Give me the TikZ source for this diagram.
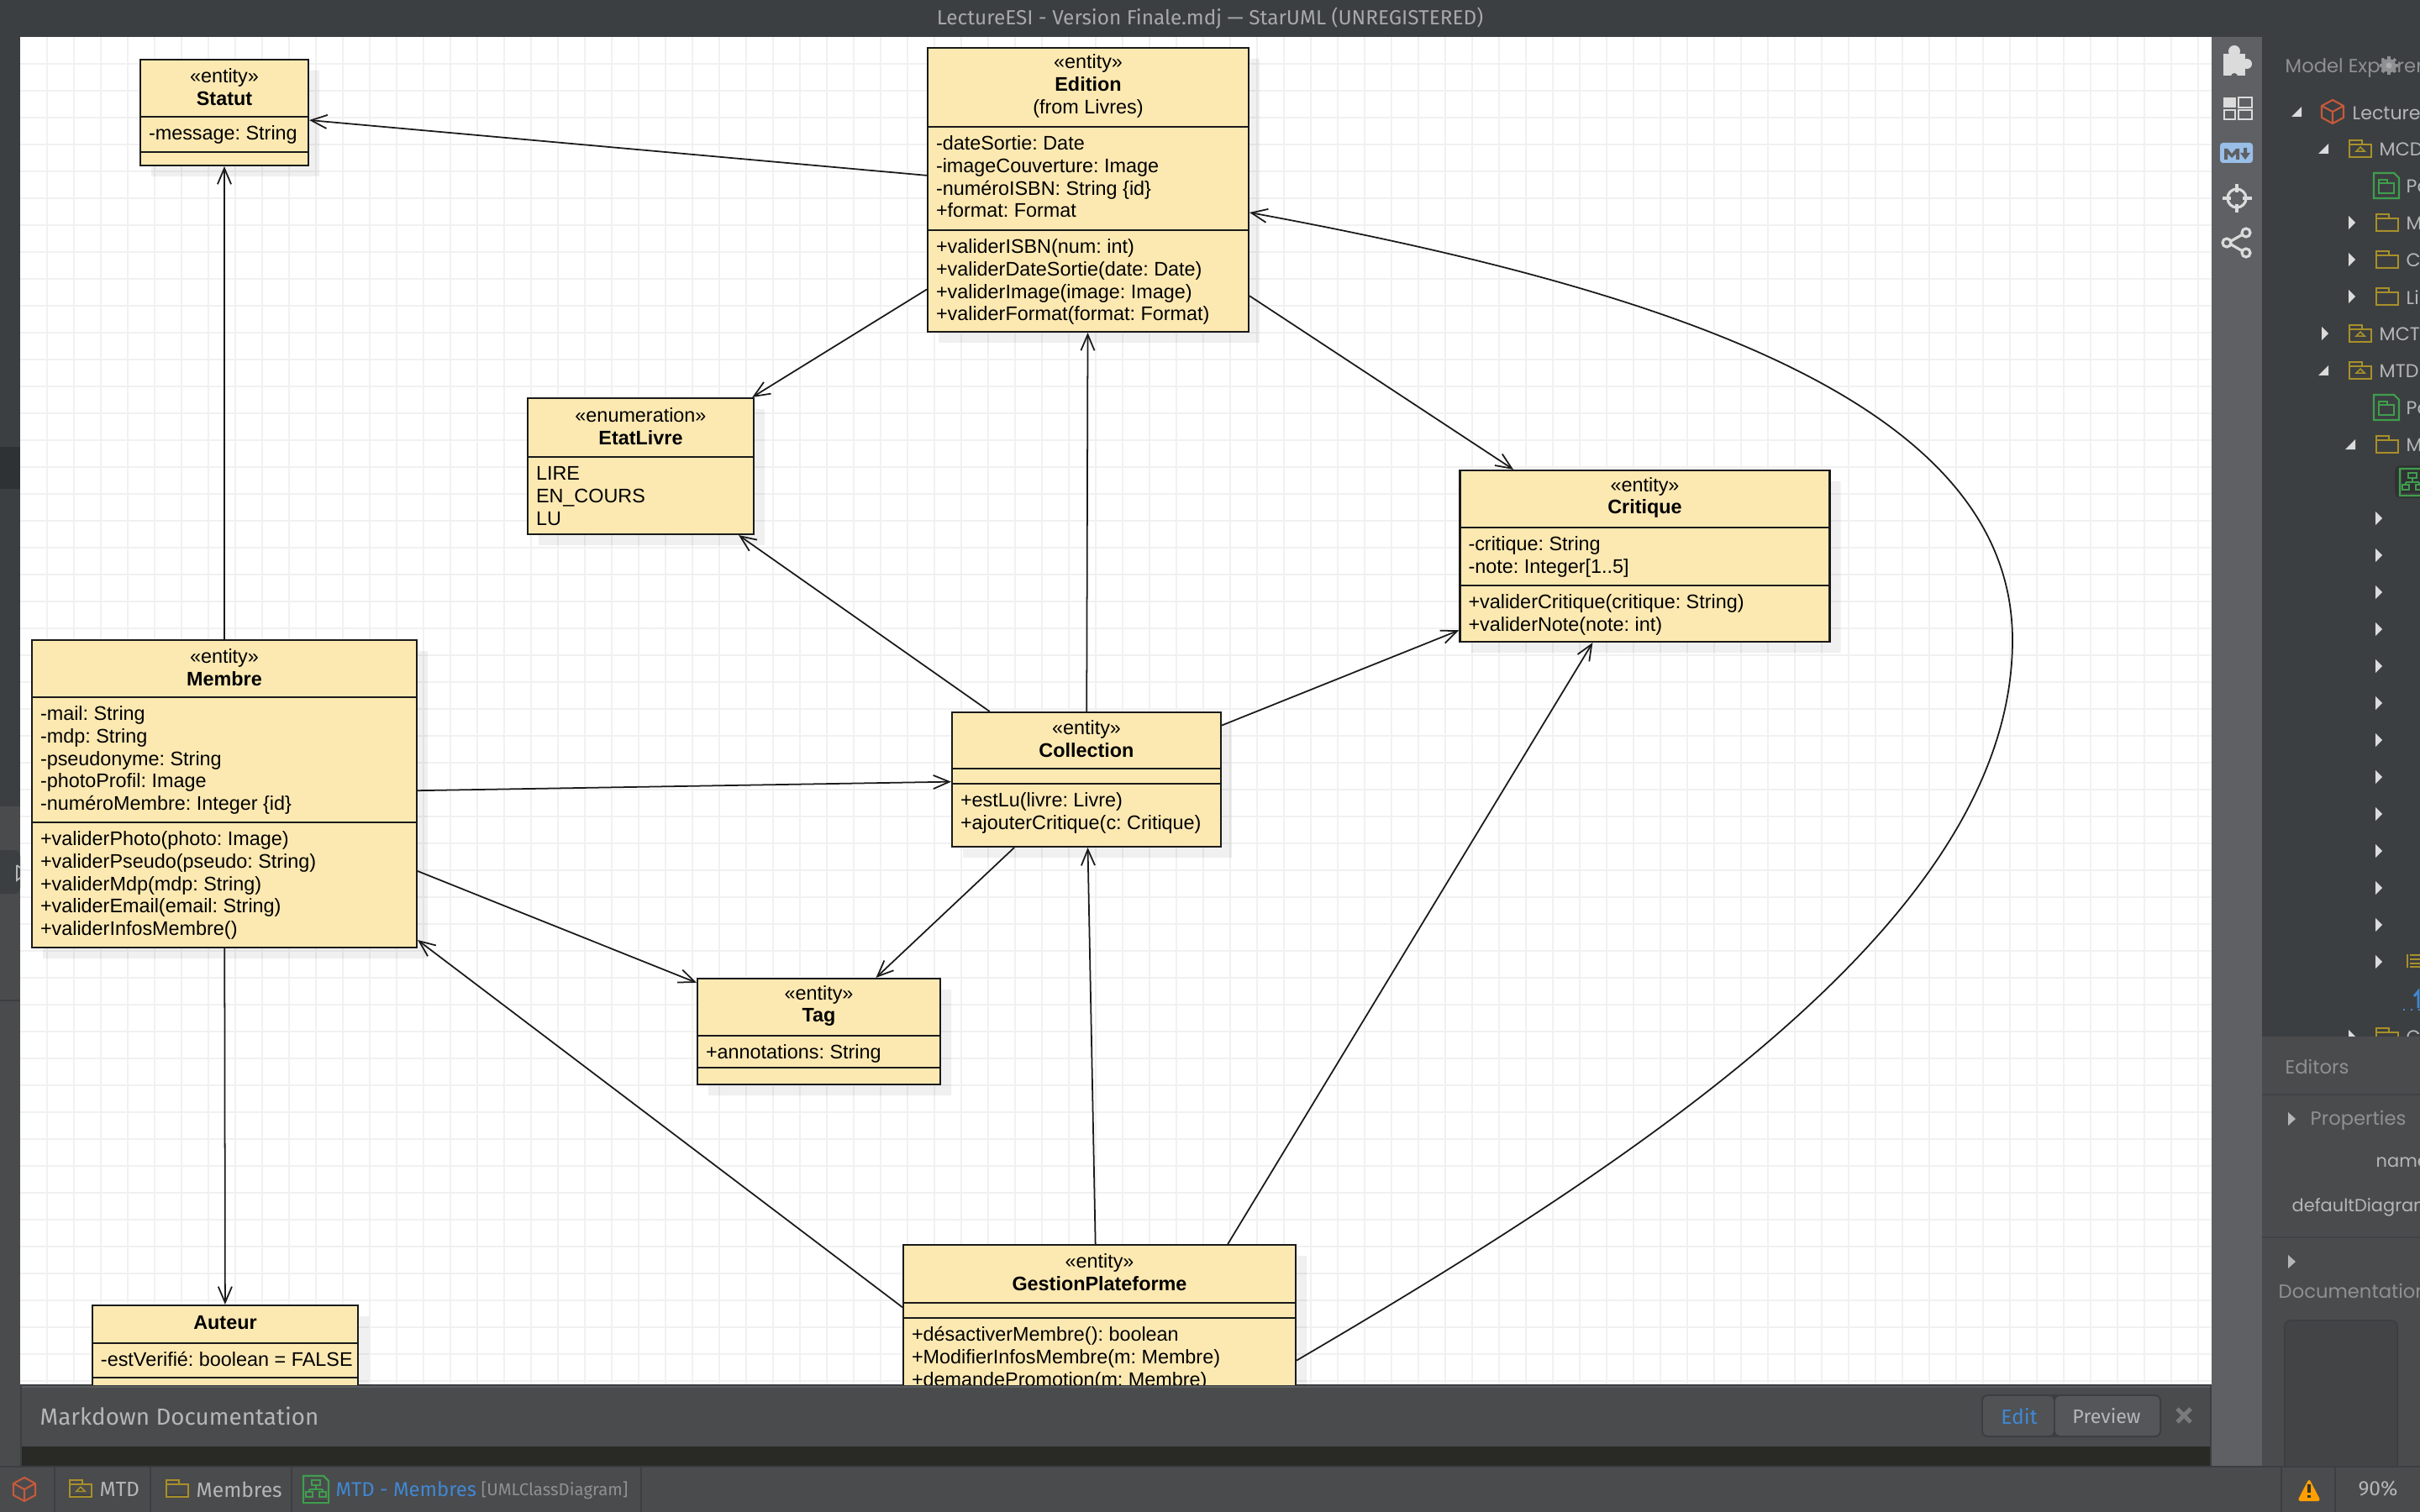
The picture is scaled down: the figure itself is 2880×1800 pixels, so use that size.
\documentclass[tikz,border=0pt]{standalone}
\usepackage{fontspec}
\setmainfont{Liberation Sans}
\newfontfamily\uifont{Fira Sans}
\newfontfamily\treefont{Poppins}
\usetikzlibrary{arrows.meta,shapes.multipart,shadows}

\definecolor{chrome}{HTML}{3C3F41}
\definecolor{chromedark}{HTML}{2F3234}
\definecolor{panel}{HTML}{4A4B4D}
\definecolor{panelline}{HTML}{5C5D5F}
\definecolor{strip}{HTML}{5F6063}
\definecolor{band}{HTML}{292A26}
\definecolor{gridline}{HTML}{F1F1F1}
\definecolor{umlfill}{HTML}{FCE9B2}
\definecolor{umlline}{HTML}{1A1A1A}
\definecolor{uitext}{HTML}{B4B6B7}
\definecolor{uidim}{HTML}{8E9092}
\definecolor{titletext}{HTML}{A6A8A9}
\definecolor{icon}{HTML}{DADBDA}
\definecolor{pkgyellow}{HTML}{A8902A}
\definecolor{docgreen}{HTML}{3F9E4D}
\definecolor{cubered}{HTML}{C65A3C}
\definecolor{linkblue}{HTML}{4088D4}

\newlength{\pxu}
\setlength{\pxu}{0.01cm}
\newcommand{\umlpart}[3]{\parbox[c][\dimexpr#2\pxu-0.6pt\relax][t]{#1\pxu}{\raggedright\leftskip=10\pxu\rule{0pt}{26.5\pxu}#3}}
\newcommand{\umlhead}[3]{\parbox[c][\dimexpr#2\pxu-0.6pt\relax][c]{#1\pxu}{\centering #3\par\vspace{3\pxu}}}

\tikzset{
  umlclass/.style={rectangle split, rectangle split parts=3, draw=umlline, fill=umlfill,
    line width=0.6pt, inner sep=0pt, font=\fontsize{6.65}{7.62}\selectfont\frenchspacing,
    general shadow={fill=black, opacity=0.06, shadow xshift=13\pxu, shadow yshift=-13\pxu}},
  assoc/.style={draw=umlline, line width=0.5pt, -{Straight Barb[length=5.4pt,width=4.6pt]}},
  title/.style={inner sep=0pt, text=titletext, font=\uifont\fontsize{6.93}{8}\selectfont},
  bar/.style={inner sep=0pt, anchor=west, text=uitext, font=\uifont\fontsize{7}{9}\selectfont},
  tree/.style={inner sep=0pt, anchor=west, text=uitext, font=\treefont\fontsize{6.3}{9}\selectfont},
  treedim/.style={tree, text=uidim, font=\treefont\fontsize{6.45}{9}\selectfont},
  treesmall/.style={tree, font=\treefont\fontsize{5.95}{9}\selectfont},
  iconline/.style={draw=icon, line width=0.6pt},
}

% small icons, #1 is the centre
\newcommand{\cubeico}[1]{\begin{scope}[shift={(#1)}, line join=round]
  \draw[cubered, line width=0.6pt] (0,-14) -- (13,-7) -- (13,7) -- (0,14) -- (-13,7) -- (-13,-7) -- cycle;
  \draw[cubered, line width=0.6pt] (-13,-7) -- (0,0) -- (13,-7) (0,0) -- (0,14);
\end{scope}}
\newcommand{\folderico}[1]{\begin{scope}[shift={(#1)}]
  \draw[pkgyellow, line width=0.6pt] (-13,-5) -- (13,-5) -- (13,10) -- (-13,10) -- cycle (-13,-5) -- (-13,-10) -- (2,-10) -- (2,-5);
  \fill[black!75] (-12,7) rectangle (12,9);
\end{scope}}
\newcommand{\packageico}[1]{\begin{scope}[shift={(#1)}]
  \folderico{0,0}
  \fill[pkgyellow] (-7,4) -- (0,-3) -- (7,4) -- cycle;
  \fill[chrome] (-3,2.5) -- (0,-0.5) -- (3,2.5) -- cycle;
\end{scope}}
\newcommand{\greenico}[1]{\begin{scope}[shift={(#1)}]
  \draw[docgreen, line width=0.6pt] (-15,-15) -- (9,-15) -- (15,-9) -- (15,15) -- (-15,15) -- cycle;
  \draw[docgreen, line width=0.6pt] (-9,-3) -- (9,-3) -- (9,9) -- (-9,9) -- cycle (-9,-3) -- (-9,-7) -- (1,-7) -- (1,-3);
\end{scope}}
\newcommand{\diagramico}[1]{\begin{scope}[shift={(#1)}]
  \draw[docgreen, line width=0.7pt] (-15,-16) -- (9,-16) -- (15,-10) -- (15,16) -- (-15,16) -- cycle;
  \draw[docgreen, line width=0.6pt] (-5,-11) rectangle (5,-5) (0,-5) -- (0,0) (-8,0) -- (8,0) (-8,0) -- (-8,3) (8,0) -- (8,3)
    (-12,3) rectangle (-4,9) (4,3) rectangle (12,9);
  \fill[black!75] (-14,13) rectangle (14,15);
\end{scope}}

\begin{document}
\begin{tikzpicture}[x=0.01cm, y=-0.01cm]
  \useasboundingbox (0,0) rectangle (2880,1800);
  \fill[chrome] (0,0) rectangle (2880,1800);

  % drawing canvas
  \begin{scope}
    \clip (24,44) rectangle (2632,1648);
    \fill[white] (24,44) rectangle (2632,1648);
    \foreach \gx in {56,88,...,2632}
      \draw[gridline, line width=0.4pt] (\gx,44) -- (\gx,1648);
    \foreach \gy in {76,108,...,1648}
      \draw[gridline, line width=0.4pt] (24,\gy) -- (2632,\gy);

    \node[umlclass] (statut) at (267,134) {\umlhead{200}{68}{«entity»\\\textbf{Statut}}
      \nodepart{two}\umlpart{200}{42}{-message: String}
      \nodepart{three}\umlpart{200}{16}{}};
    \node[umlclass] (edition) at (1295,226) {\umlhead{382}{94}{«entity»\\\textbf{Edition}\\(from Livres)}
      \nodepart{two}\umlpart{382}{123}{-dateSortie: Date\\-imageCouverture: Image\\-numéroISBN: String \{id\}\\+format: Format}
      \nodepart{three}\umlpart{382}{121}{+validerISBN(num: int)\\+validerDateSortie(date: Date)\\+validerImage(image: Image)\\+validerFormat(format: Format)}};
    \node[umlclass, rectangle split parts=2] (etatlivre) at (762.5,555) {\umlhead{269}{70}{«enumeration»\\\textbf{EtatLivre}}
      \nodepart{two}\umlpart{269}{92}{LIRE\\EN\_COURS\\LU}};
    \node[umlclass] (critique) at (1957.5,662) {\umlhead{440}{68}{«entity»\\\textbf{Critique}}
      \nodepart{two}\umlpart{440}{69}{-critique: String\\-note: Integer[1..5]}
      \nodepart{three}\umlpart{440}{67}{+validerCritique(critique: String)\\+validerNote(note: int)}};
    \node[umlclass] (membre) at (267,945) {\umlhead{458}{68}{«entity»\\\textbf{Membre}}
      \nodepart{two}\umlpart{458}{149}{-mail: String\\-mdp: String\\-pseudonyme: String\\-photoProfil: Image\\-numéroMembre: Integer \{id\}}
      \nodepart{three}\umlpart{458}{149}{+validerPhoto(photo: Image)\\+validerPseudo(pseudo: String)\\+validerMdp(mdp: String)\\+validerEmail(email: String)\\+validerInfosMembre()}};
    \node[umlclass] (collection) at (1293,928) {\umlhead{320}{67}{«entity»\\\textbf{Collection}}
      \nodepart{two}\umlpart{320}{18}{}
      \nodepart{three}\umlpart{320}{75}{+estLu(livre: Livre)\\+ajouterCritique(c: Critique)}};
    \node[umlclass] (tag) at (974.5,1228) {\umlhead{289}{68}{«entity»\\\textbf{Tag}}
      \nodepart{two}\umlpart{289}{38}{+annotations: String}
      \nodepart{three}\umlpart{289}{20}{}};
    \node[umlclass] (gestion) at (1308.5,1734) {\umlhead{467}{69}{«entity»\\\textbf{GestionPlateforme}}
      \nodepart{two}\umlpart{467}{18}{}
      \nodepart{three}\umlpart{467}{417}{+désactiverMembre(): boolean\\+ModifierInfosMembre(m: Membre)\\+demandePromotion(m: Membre)}};
    \node[umlclass] (auteur) at (268,1617) {\umlhead{316}{45}{\textbf{Auteur}}
      \nodepart{two}\umlpart{316}{41}{-estVerifié: boolean = FALSE}
      \nodepart{three}\umlpart{316}{40}{}};

    \draw[assoc] (edition) -- (statut);
    \draw[assoc] (membre) -- (statut);
    \draw[assoc] (edition) -- (etatlivre);
    \draw[assoc] (collection) -- (etatlivre);
    \draw[assoc] (collection) -- (edition);
    \draw[assoc] (edition) -- (critique);
    \draw[assoc] (collection) -- (critique);
    \draw[assoc] (membre) -- (collection);
    \draw[assoc] (collection) -- (tag);
    \draw[assoc] (membre) -- (tag);
    \draw[assoc] (membre) -- (auteur);
    \draw[assoc] (gestion) -- (collection);
    \draw[assoc] (gestion) -- (critique);
    \draw[assoc] (gestion) -- (membre);
    \draw[assoc] (gestion.26.7) .. controls (1983,1362) and (2395,1082) .. (2395,762)
      .. controls (2395,492) and (2026,352) .. (edition.-8.6);
  \end{scope}

  % title bar
  \node[title] (apptitle) at (1440,22) {LectureESI - Version Finale.mdj — StarUML (UNREGISTERED)};

  % left strip
  \fill[chromedark] (0,532) rectangle (24,582);
  \fill[panel] (0,960) rectangle (24,1746);
  \draw[chrome, line width=0.5pt] (0,1191) -- (24,1191);
  \fill[chrome, rounded corners=2pt] (-10,1012) rectangle (24,1064);
  \draw[uitext, line width=0.5pt] (20,1030) -- (24,1033) (20,1030) -- (20,1048) -- (24,1045);

  % markdown panel
  \fill[panel] (26,1650) rectangle (2630,1746);
  \fill[panelline] (26,1650) rectangle (2630,1652);
  \fill[band] (26,1722) rectangle (2630,1746);
  \node[bar, font=\uifont\fontsize{7.9}{9}\selectfont] (mdtitle) at (47,1686) {Markdown Documentation};
  \fill[chrome, rounded corners=2pt] (2358,1660) rectangle (2572,1711);
  \fill[chrome!90!white, rounded corners=1.5pt] (2360,1662) rectangle (2444,1709);
  \fill[strip!90!black, rounded corners=1.5pt] (2446,1662) rectangle (2570,1709);
  \node[bar, anchor=center, text=linkblue] (editbtn) at (2403,1686) {Edit};
  \node[bar, anchor=center, font=\uifont\fontsize{6.6}{9}\selectfont] (previewbtn) at (2507,1686) {Preview};
  \draw[uidim!85!black, line width=1.4pt] (2591,1677) -- (2607,1693) (2607,1677) -- (2591,1693);

  % tool strip
  \fill[strip] (2632,44) rectangle (2692,1746);
  \fill[icon] (2646,64) rectangle (2672,90);
  \fill[icon] (2659,61) circle (7);
  \fill[icon] (2674,76) circle (6);
  \fill[strip] (2659,91) circle (4);
  \fill[icon] (2646,116) rectangle (2661,128);
  \draw[iconline] (2664,116) rectangle (2680,128) (2647,131) rectangle (2660,142) (2664,131) rectangle (2680,142);
  \fill[cyan!30!white!85!blue, rounded corners=1pt] (2642,170) rectangle (2681,194);
  \fill[strip] (2647,177) -- (2651,177) -- (2656,183) -- (2661,177) -- (2665,177) -- (2665,190) -- (2661,190) -- (2661,183) -- (2656,188) -- (2651,183) -- (2651,190) -- (2647,190) -- cycle;
  \fill[strip] (2670,176) -- (2674,176) -- (2674,182) -- (2678,182) -- (2672,190) -- (2666,182) -- (2670,182) -- cycle;
  \draw[icon, line width=0.9pt] (2662,236) circle (11);
  \draw[icon, line width=1pt] (2662,219) -- (2662,229) (2662,243) -- (2662,253) (2645,236) -- (2655,236) (2669,236) -- (2680,236);
  \draw[icon, line width=0.9pt] (2673,277) circle (5) (2650,289) circle (5) (2673,301) circle (5)
    (2655,287) -- (2669,279) (2655,291) -- (2669,299);

  % model explorer
  \node[treedim] (explorer) at (2719,81) {Model Explorer};
  \fill[uidim] (2843,78) circle (8);
  \foreach \ga in {0,45,...,315}
    \draw[uidim, line width=1pt] (2843,78) ++(\ga:11) -- ++(\ga:-4);
  \fill[icon!70!chrome] (2843,78) circle (3.5);

  \foreach \ax/\ay in {2733/133, 2765/177, 2765/441, 2797/529}
    \fill[icon] (\ax-6,\ay+6) -- (\ax+6,\ay+6) -- (\ax+6,\ay-6) -- cycle;
  \foreach \ax/\ay in {2799/265, 2799/309, 2799/353, 2767/397, 2799/1234}
    \fill[icon] (\ax-4,\ay-8) -- (\ax+4,\ay) -- (\ax-4,\ay+8) -- cycle;
  \foreach \ay in {617,661,...,1145}
    \fill[icon] (2827,\ay-8) -- (2835,\ay) -- (2827,\ay+8) -- cycle;

  \cubeico{2776,133}
  \packageico{2809,177}
  \packageico{2809,397}
  \packageico{2809,441}
  \greenico{2840,221}
  \greenico{2840,485}
  \folderico{2841,265}
  \folderico{2841,309}
  \folderico{2841,353}
  \folderico{2841,529}
  \folderico{2841,1234}

  \fill[chrome!80!black, rounded corners=2pt] (2850,554) rectangle (2890,593);
  \diagramico{2871,574}

  \node[tree] (lecture) at (2799,135) {Lecture};
  \node[tree] (mcd) at (2831,178) {MCD};
  \node[tree] (pamcd) at (2863,222) {Pa};
  \node[tree] (mcdm) at (2863,266) {M};
  \node[tree] (mcdc) at (2863,310) {Co};
  \node[tree] (mcdl) at (2863,354) {Li};
  \node[tree] (mct) at (2831,398) {MCT};
  \node[tree] (mtd) at (2831,442) {MTD};
  \node[tree] (pamtd) at (2863,486) {Pa};
  \node[tree] (mtdm) at (2863,530) {M};
  \node[tree] (mtdc) at (2863,1235) {C};

  \fill[pkgyellow] (2864,1136) rectangle (2866,1152);
  \foreach \ly in {1137,1142,1147,1151}
    \draw[pkgyellow, line width=0.6pt] (2868,\ly) -- (2880,\ly);
  \draw[linkblue, line width=0.6pt, dotted] (2860,1202) -- (2880,1202);
  \draw[linkblue, line width=0.8pt] (2878,1200) -- (2878,1180) -- (2873,1186);

  % editors panel
  \fill[panel] (2692,1234) rectangle (2880,1746);
  \draw[chrome!70!panel, line width=0.6pt] (2692,1303) -- (2880,1303) (2692,1473) -- (2880,1473);
  \node[treedim] (editors) at (2719,1270) {Editors};
  \fill[uitext] (2723,1324) -- (2732,1332) -- (2723,1340) -- cycle;
  \node[treedim] (properties) at (2749,1334) {Properties};
  \node[treesmall] (propname) at (2827,1384) {name};
  \node[treesmall] (defdiagram) at (2727,1437) {defaultDiagram};
  \fill[uitext] (2723,1494) -- (2732,1502) -- (2723,1510) -- cycle;
  \node[treedim] (documentation) at (2711,1537) {Documentation};
  \filldraw[fill=chrome!60!panel, draw=chrome, line width=0.5pt, rounded corners=2pt] (2719,1572) rectangle (2853,1760);

  % status bar
  \fill[panel] (0,1746) rectangle (2880,1800);
  \draw[chrome, line width=0.6pt] (0,1746) -- (2880,1746);
  \foreach \sx in {65,179,347,763,2715,2779}
    \draw[chrome, line width=0.6pt] (\sx,1746) -- (\sx,1800);
  \cubeico{29,1773}
  \packageico{96,1772}
  \folderico{211,1772}
  \diagramico{376,1773}
  \node[bar] (statusmtd) at (118,1773) {MTD};
  \node[bar] (statusmembres) at (233,1773) {Membres};
  \node[bar, text=linkblue, font=\uifont\fontsize{6.8}{9}\selectfont] (statusdiagram) at (399,1773) {MTD - Membres};
  \node[bar, text=uidim, font=\uifont\fontsize{5.8}{8}\selectfont] (statustype) at (572,1774) {[UMLClassDiagram]};
  \fill[orange!75!yellow, rounded corners=1pt] (2748,1760) -- (2734,1787) -- (2762,1787) -- cycle;
  \draw[black!80, line width=1pt] (2748,1767) -- (2748,1777) (2748,1780) -- (2748,1783);
  \node[bar, anchor=center] (zoomlevel) at (2830,1772) {90\%};
\end{tikzpicture}
\end{document}
